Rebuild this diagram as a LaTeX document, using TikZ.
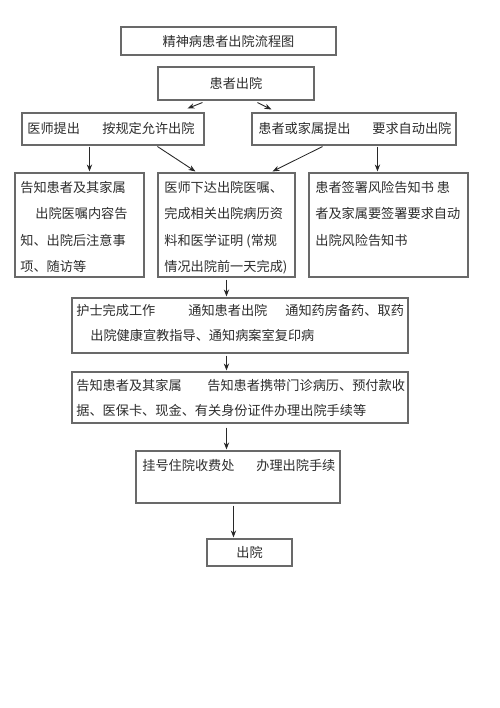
\documentclass[tikz,border=0pt]{standalone}
\usepackage{fontspec}
\newfontfamily\cjk{Noto Sans CJK SC}
\usetikzlibrary{fit,arrows.meta,calc}
\definecolor{ln}{RGB}{105,105,105}
\definecolor{tx}{RGB}{45,45,45}
\definecolor{ar}{RGB}{40,40,40}
\begin{document}
\begin{tikzpicture}[x=0.02cm,y=-0.02cm,
  box/.style={draw=ln, line width=0.6pt, inner sep=0pt},
  t/.style={anchor=base west, inner sep=0pt, text=tx, font=\cjk\fontsize{7.5}{9}\selectfont},
  tc/.style={anchor=center, inner sep=0pt, text=tx, font=\cjk\fontsize{7.5}{9}\selectfont},
  arr/.style={draw=ar, line width=0.5pt, -{Stealth[length=4pt,width=3pt]}}]
\useasboundingbox[fill=white] (0,0) rectangle (500,708);
% boxes
\node[box, fit={(121,27) (336,55)}] (T) {};
\node[box, fit={(158,67) (314,100)}] (P) {};
\node[box, fit={(22,113) (204,145)}] (L) {};
\node[box, fit={(252,113) (456,145)}] (R) {};
\node[box, fit={(15,173) (144,277)}] (A) {};
\node[box, fit={(158,173) (295,277)}] (B) {};
\node[box, fit={(309,173) (468,277)}] (C) {};
\node[box, fit={(72,298) (408,353)}] (D) {};
\node[box, fit={(72,372) (408,423)}] (E) {};
\node[box, fit={(136,451) (340,503)}] (F) {};
\node[box, fit={(207,539) (292,566)}] (G) {};
% texts
\node[tc] (tT) at (T.center) {精神病患者出院流程图};
\node[tc] (tP) at (P.center) {患者出院};
\node[t] (tL1) at (27,133) {医师提出};
\node[t] (tL2) at (102,133) {按规定允许出院};
\node[t] (tR1) at (258,133) {患者或家属提出};
\node[t] (tR2) at (372,133) {要求自动出院};
\node[t] (tA1) at (20,192) {告知患者及其家属};
\node[t] (tA2) at (35,218) {出院医嘱内容告};
\node[t] (tA3) at (20,245) {知、出院后注意事};
\node[t] (tA4) at (20,271) {项、随访等};
\node[t] (tB1) at (164,192) {医师下达出院医嘱、};
\node[t] (tB2) at (164,218) {完成相关出院病历资};
\node[t] (tB3) at (164,245) {料和医学证明 (常规};
\node[t] (tB4) at (164,271) {情况出院前一天完成)};
\node[t] (tC1) at (315,192) {患者签署风险告知书 患};
\node[t] (tC2) at (315,218) {者及家属要签署要求自动};
\node[t] (tC3) at (315,245) {出院风险告知书};
\node[t] (tD1) at (76,315) {护士完成工作};
\node[t] (tD2) at (188,315) {通知患者出院};
\node[t] (tD3) at (285,315) {通知药房备药、取药};
\node[t] (tD4) at (90,340) {出院健康宣教指导、通知病案室复印病};
\node[t] (tE1) at (76,390) {告知患者及其家属};
\node[t] (tE2) at (207,390) {告知患者携带门诊病历、预付款收};
\node[t] (tE3) at (76,415) {据、医保卡、现金、有关身份证件办理出院手续等};
\node[t] (tF1) at (142,470) {挂号住院收费处};
\node[t] (tF2) at (256,470) {办理出院手续};
\node[tc] (tG) at (G.center) {出院};
% arrows
\draw[arr] ($(P.south west)+(45,2)$) -- ($(L.north west)+(166,-4)$);
\draw[arr] ($(P.south west)+(100,2)$) -- ($(R.north west)+(20,-3)$);
\draw[arr] ($(L.south west)+(68,1)$) -- ($(A.north west)+(75,-1)$);
\draw[arr] ($(L.south west)+(136,1)$) -- ($(B.north west)+(38,-1)$);
\draw[arr] ($(R.south west)+(71,1)$) -- ($(B.north west)+(115,-1)$);
\draw[arr] ($(R.south west)+(126,1)$) -- ($(C.north west)+(69,-1)$);
\draw[arr] ($(B.south west)+(69,2)$) -- ($(D.north west)+(155,-1)$);
\draw[arr] ($(D.south west)+(155,2)$) -- ($(E.north west)+(155,-1)$);
\draw[arr] ($(E.south west)+(155,4)$) -- ($(F.north west)+(91,-1)$);
\draw[arr] ($(F.south west)+(98,2)$) -- ($(G.north west)+(27,-1)$);
\end{tikzpicture}
\end{document}
